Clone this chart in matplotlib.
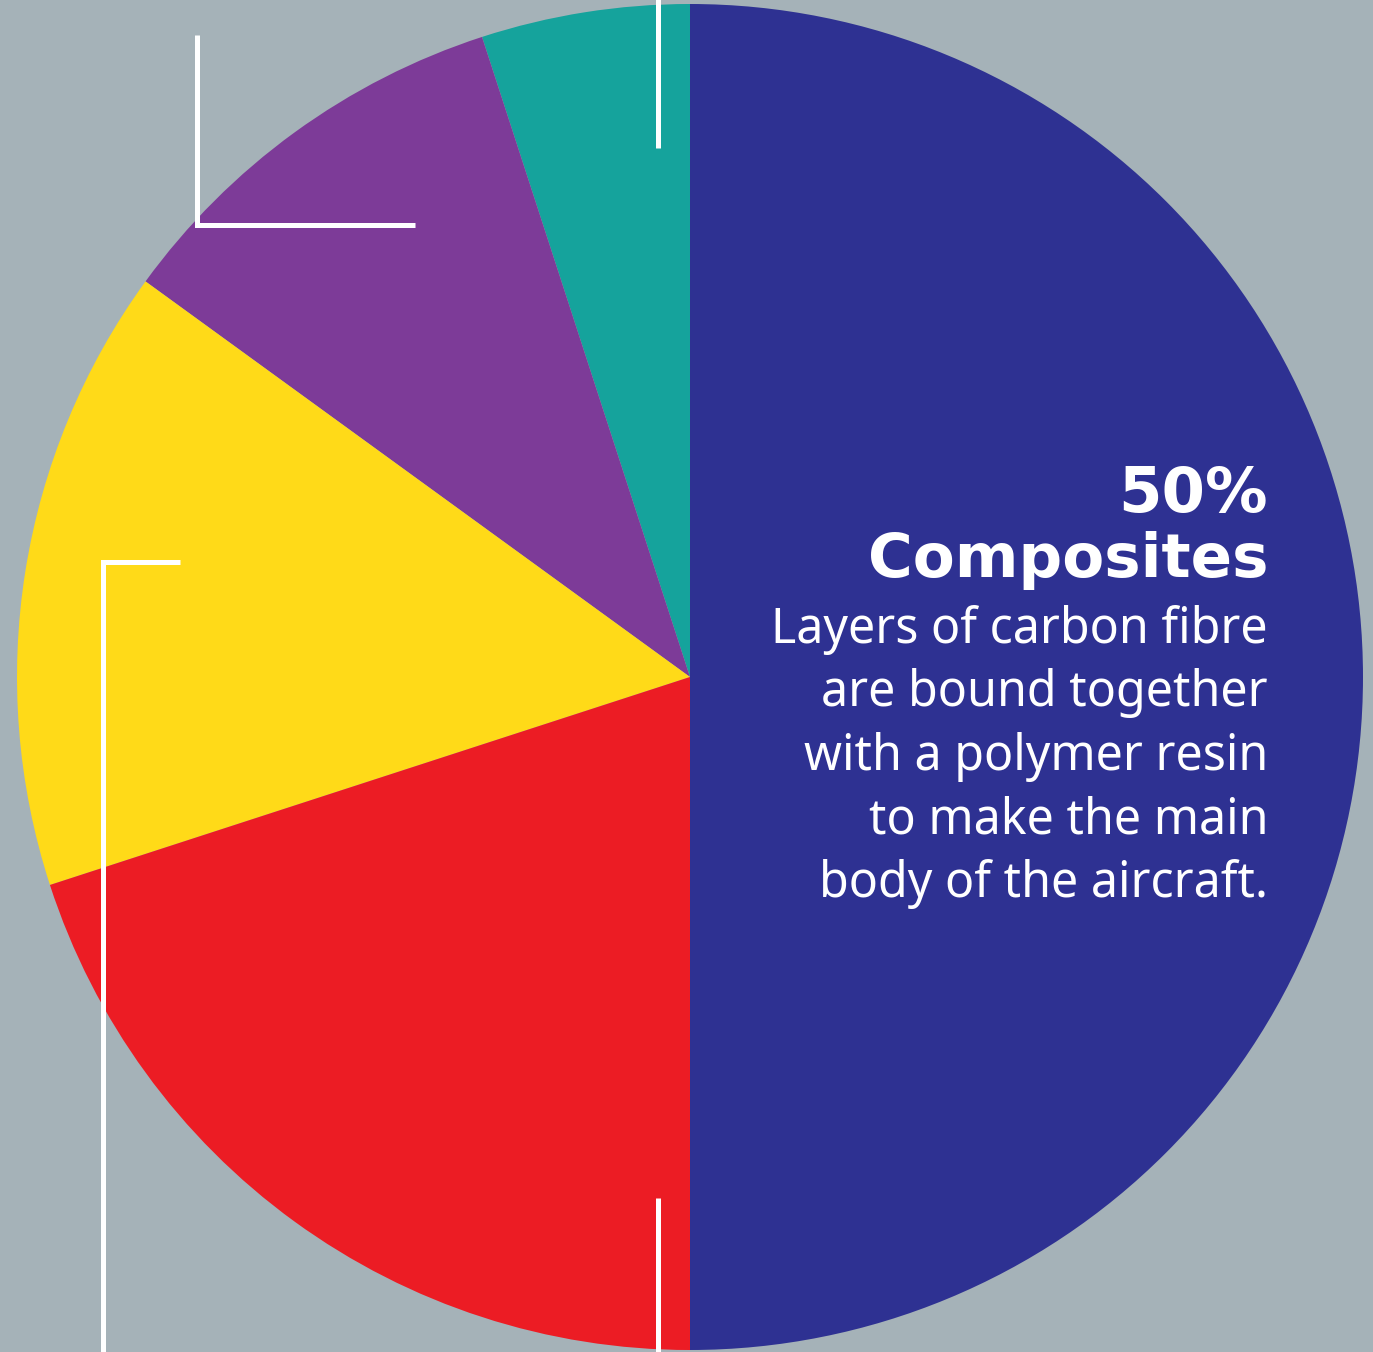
import matplotlib
matplotlib.use("Agg")
import matplotlib.pyplot as plt

# Data (Boeing 787 materials by weight), counter-clockwise from 12 o'clock
categories = ["Other", "Steel", "Titanium", "Aluminium", "Composites"]
shares = [5, 10, 15, 20, 50]
colors = ["#15a39c", "#7d3b98", "#ffda18", "#ec1c24", "#2e3192"]

headline_pct = "50%"
headline_name = "Composites"
body_lines = [
    "Layers of carbon fibre",
    "are bound together",
    "with a polymer resin",
    "to make the main",
    "body of the aircraft.",
]

BG = "#a5b2b8"
W, H = 1373, 1352
CX, CY, R = 690, 677, 673  # pixel centre/radius of the pie

fig = plt.figure(figsize=(W / 100, H / 100), dpi=100, facecolor=BG)
ax = fig.add_axes([0, 0, 1, 1])
ax.set_facecolor(BG)

ax.pie(shares, colors=colors, startangle=90, counterclock=True,
       radius=1.0, center=(0, 0),
       wedgeprops=dict(linewidth=0, antialiased=True))

ax.set_xlim((0 - CX) / R, (W - CX) / R)
ax.set_ylim((CY - H) / R, (CY - 0) / R)
ax.set_aspect("auto")
ax.axis("off")


def px(x, y):
    return (x - CX) / R, (CY - y) / R


def wline(pts):
    xs, ys = zip(*[px(x, y) for x, y in pts])
    ax.plot(xs, ys, color="white", lw=3.6, solid_capstyle="butt",
            solid_joinstyle="miter", zorder=5)


# connector lines
wline([(658, -5), (658, 148)])
wline([(197, 35), (197, 225), (415, 225)])
wline([(180, 562), (103, 562), (103, 1360)])
wline([(658, 1198), (658, 1360)])

# text on the composites slice
xr = 1268
x0, y0 = px(xr, 512)
ax.text(x0, y0, headline_pct, color="white", fontsize=45, fontweight="bold",
        family=["DejaVu Sans"], ha="right", va="baseline", zorder=6)
x0, y0 = px(xr, 577)
ax.text(x0, y0, headline_name, color="white", fontsize=44, fontweight="bold",
        family=["DejaVu Sans"], ha="right", va="baseline", zorder=6)
for i, line in enumerate(body_lines):
    x0, y0 = px(xr, 643 + i * 63.5)
    ax.text(x0, y0, line, color="white", fontsize=34.8,
            family=["Noto Sans", "DejaVu Sans"], ha="right", va="baseline", zorder=6)

fig.savefig("out.png", dpi=100, facecolor=BG)
